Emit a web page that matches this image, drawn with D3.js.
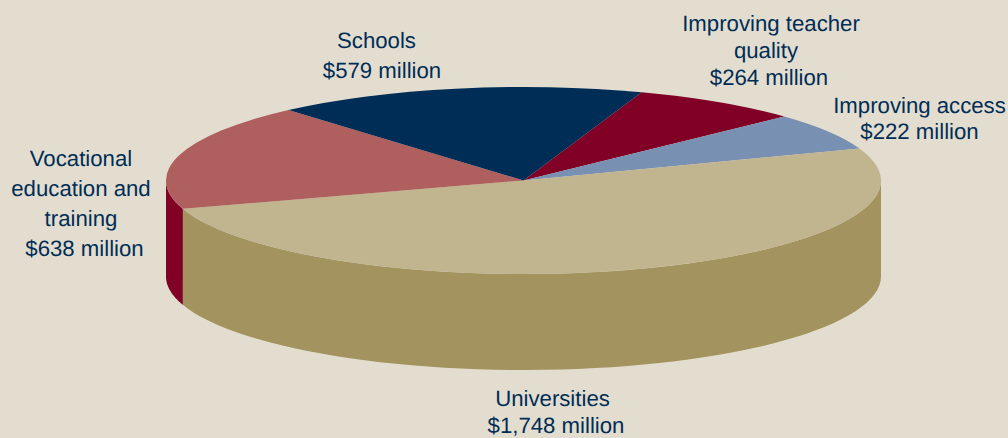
<!DOCTYPE html>
<html><head><meta charset="utf-8">
<script src="https://cdn.jsdelivr.net/npm/d3@7"></script>
<style>html,body{margin:0;padding:0;background:#E3DDCF;overflow:hidden}svg{display:block}</style>
</head><body><svg id="c" width="1008" height="438"></svg>
<script>
const categories = ["Improving teacher quality","Improving access","Universities","Vocational education and training","Schools"];
const values = [264,222,1748,638,579];
const topColors = ["#800026","#7890B2","#C1B590","#B05F5F","#002D56"];
const sideColors = ["#5c001b","#566a85","#A3945F","#800026","#001f3c"];
const labelLines = [
  ["Improving teacher","quality","$264 million"],
  ["Improving access","$222 million"],
  ["Universities","$1,748 million"],
  ["Vocational","education and","training","$638 million"],
  ["Schools","$579 million"]
];
const labelX = [[771,766,769],[919.5,919.5],[552.5,556],[81,81,81,84.5],[376.5,382]];
const labelY = [[23,50,77],[105,131],[398,425.5],[158,188,218,248],[40,70]];

(function(){
const cx=523.5,cy=180.5,rx=357.5,ry=93.5,depth=96;
const svg=d3.select("#c");
const start=19.3*Math.PI/180;
const arcs=d3.pie().sort(null).startAngle(start).endAngle(start+2*Math.PI)(values);
const px=a=>cx+rx*Math.sin(a), py=a=>cy-ry*Math.cos(a);
const lo=Math.PI/2, hi=3*Math.PI/2;

// side wall
arcs.forEach((d,i)=>{
  [0,2*Math.PI].forEach(sh=>{
    const a0=Math.max(d.startAngle-sh,lo), a1=Math.min(d.endAngle-sh,hi);
    if(a1<=a0) return;
    const p=d3.path();
    p.moveTo(px(a0),py(a0));
    const n=60;
    for(let k=1;k<=n;k++){const a=a0+(a1-a0)*k/n;p.lineTo(px(a),py(a));}
    for(let k=n;k>=0;k--){const a=a0+(a1-a0)*k/n;p.lineTo(px(a),py(a)+depth);}
    p.closePath();
    svg.append("path").attr("d",p.toString()).attr("fill",sideColors[i]);
  });
});

// top face
const arc=d3.arc().innerRadius(0).outerRadius(rx);
const face=svg.append("g").attr("transform",`translate(${cx},${cy}) scale(1,${ry/rx})`);
face.selectAll("path").data(arcs).join("path").attr("d",arc).attr("fill",(d,i)=>topColors[i]);

// labels
labelLines.forEach((lines,i)=>{
  const t=svg.append("text").attr("text-anchor","middle")
    .attr("font-family","'Liberation Sans',Arial,sans-serif").attr("font-size",22.2)
    .attr("text-rendering","geometricPrecision").attr("fill","#002D56");
  lines.forEach((s,j)=>t.append("tspan").attr("x",labelX[i][j]).attr("y",labelY[i][j]).attr("dy","0.35em").text(s));
});
})();
</script></body></html>
